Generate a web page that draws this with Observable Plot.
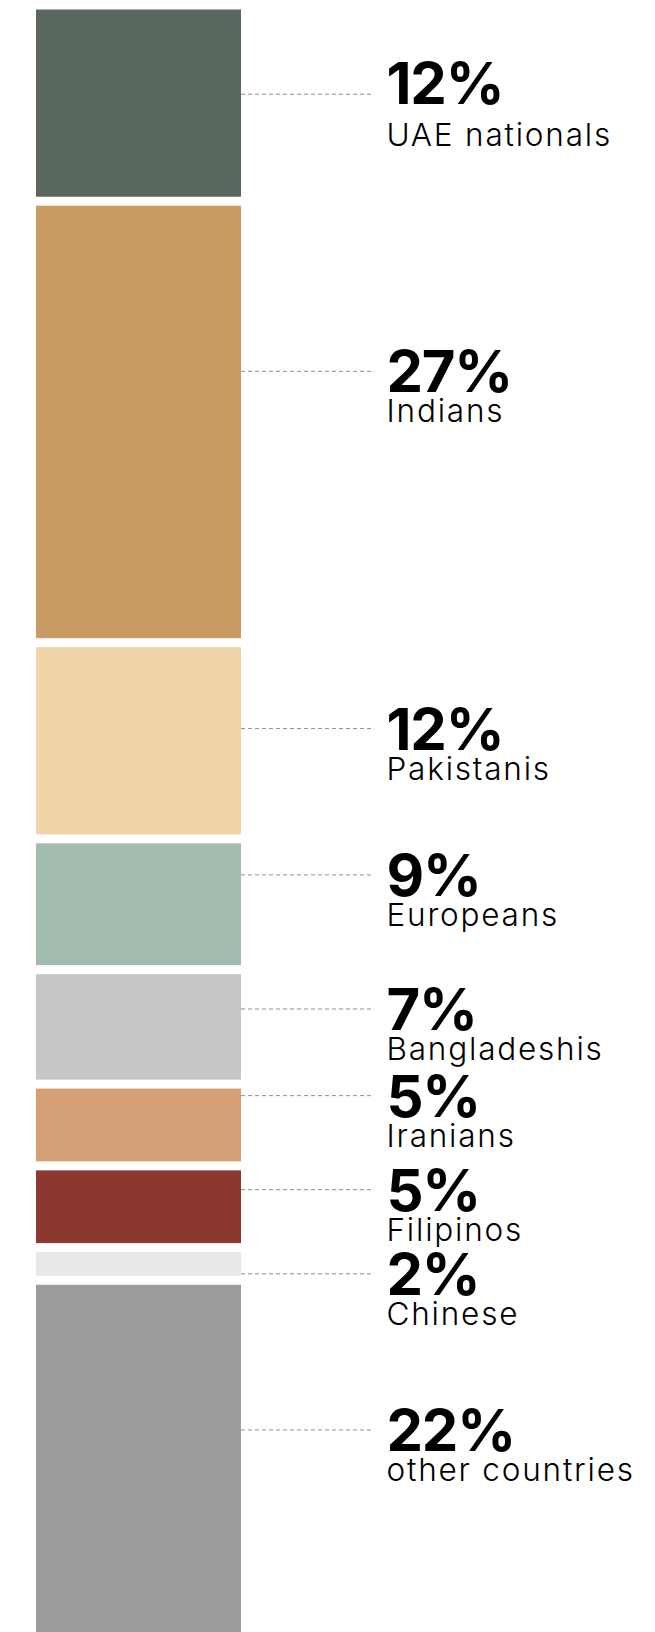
<!DOCTYPE html>
<html><head><meta charset="utf-8">
<script src="https://cdn.jsdelivr.net/npm/d3@7"></script>
<script src="https://cdn.jsdelivr.net/npm/@observablehq/plot@0.6"></script>
<style>html,body{margin:0;padding:0;background:#fff;overflow:hidden}</style>
</head><body><div id="chart"></div>
<script>
// Population of the UAE by origin (share of residents)
const groups = ["UAE nationals","Indians","Pakistanis","Europeans","Bangladeshis","Iranians","Filipinos","Chinese","other countries"];
// bar heights (percent of the stack)
const shares = [12, 27, 12, 8, 7, 5, 5, 2, 22];
// printed percentages
const shareLabels = ["12%","27%","12%","9%","7%","5%","5%","2%","22%"];
// where each callout points, in percent along the stack
const calloutAt = [5.15, 22.1, 43.95, 52.9, 61.1, 66.4, 72.15, 77.3, 86.85];
const colors = ["#59675f","#c99b65","#f1d4aa","#a1bbae","#c5c6c5","#d49f74","#8b3830","#e8e8e8","#9c9c9c"];

let acc = 0;
const rows = groups.map((g, i) => {
  const r = {group: g, start: acc, end: acc + shares[i], share: shareLabels[i], at: calloutAt[i], i};
  acc += shares[i];
  return r;
});

const numFont = {fontFamily: "Inter, Roboto, sans-serif", fontSize: 58, fontWeight: 700, fill: "#000", textAnchor: "start", lineAnchor: "bottom"};
const lblFont = {fontFamily: "Inter, Roboto, sans-serif", fontSize: 31.5, fontWeight: 300, fill: "#000", textAnchor: "start", lineAnchor: "bottom"};

const chart = Plot.plot({
  width: 655, height: 1632,
  marginLeft: 36, marginRight: 414, marginTop: 0, marginBottom: 0,
  x: {domain: [0, 1], axis: null},
  y: {domain: [0, 100], range: [9.5, 1644.5], axis: null},
  color: {domain: groups, range: colors},
  style: {background: "#fff"},
  marks: [
    Plot.rect(rows, {x1: 0, x2: 1, y1: "start", y2: "end", fill: "group", insetBottom: 9}),
    Plot.ruleY(rows, {y: "at", x1: 1, x2: 1.65, stroke: "#8f8f8f", strokeWidth: 1, strokeDasharray: "4,3"}),
    Plot.text(rows, {filter: d => d.i === 0, x: 1, y: "at", text: "share", dx: 145, dy: 10, ...numFont}),
    Plot.text(rows, {filter: d => d.i !== 0, x: 1, y: "at", text: "share", dx: 145, dy: 21, ...numFont}),
    Plot.text(rows, {filter: d => d.i === 0, x: 1, y: "at", text: "group", dx: 145, dy: 52, ...lblFont}),
    Plot.text(rows, {filter: d => d.i !== 0, x: 1, y: "at", text: "group", dx: 145, dy: 51, ...lblFont})
  ]
});
// letter spacing: tighter figures, airier labels
const textGroups = chart.querySelectorAll('g[aria-label="text"]');
textGroups.forEach((g, k) => g.setAttribute("letter-spacing", k < 2 ? "-1.2" : "1.8"));
document.getElementById("chart").appendChild(chart);
</script>
</body></html>
